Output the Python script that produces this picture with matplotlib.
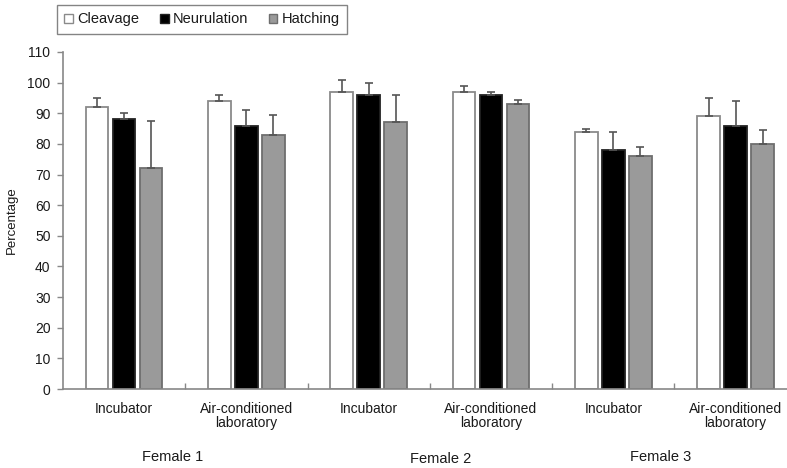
import numpy as np
import matplotlib.pyplot as plt
from matplotlib.patches import Patch
from matplotlib.transforms import blended_transform_factory

plt.rcParams['font.family'] = ['Liberation Sans', 'DejaVu Sans']

# data
conditions = ["Incubator", "Air-conditioned\nlaboratory"] * 3
females = ["Female 1", "Female 2", "Female 3"]
series = ["Cleavage", "Neurulation", "Hatching"]
cleavage = [92, 94, 97, 97, 84, 89]
neurulation = [88, 86, 96, 96, 78, 86]
hatching = [72, 83, 87, 93, 76, 80]
cleavage_err = [3, 2, 4, 2, 1, 6]
neurulation_err = [2, 5, 4, 1, 6, 8]
hatching_err = [15.5, 6.5, 9, 1.3, 3, 4.5]

values = [cleavage, neurulation, hatching]
errors = [cleavage_err, neurulation_err, hatching_err]
faces = ["white", "black", "#9a9a9a"]
edges = ["#8a8a8a", "#222222", "#6e6e6e"]
txt = "#1a1a1a"

fig = plt.figure(figsize=(7.87, 4.68), dpi=100)
ax = fig.add_axes([0.080, 0.1688, 0.920, 0.7201])

x = np.arange(len(conditions))
width = 0.184
step = 0.221
for i, (vals, errs) in enumerate(zip(values, errors)):
    ax.bar(x + (i - 1) * step, vals, width, color=faces[i], edgecolor=edges[i],
           linewidth=1.3, zorder=2)
    ax.errorbar(x + (i - 1) * step, vals, yerr=[np.zeros(len(errs)), errs],
                fmt="none", ecolor="#555555", elinewidth=1.2, capsize=3,
                capthick=1.2, zorder=3)

ax.set_xlim(-0.5, 5.42)
ax.set_ylim(0, 110)
ax.set_yticks(np.arange(0, 111, 10))
ax.tick_params(axis="y", length=4, width=1, color="#888888", labelsize=10,
               labelcolor=txt, pad=5)
ax.set_xticks(x)
ax.set_xticklabels(conditions, fontsize=10, linespacing=1.0, color=txt)
ax.tick_params(axis="x", which="major", length=0, pad=9)
ax.set_xticks(np.arange(0.5, 5.5, 1), minor=True)
ax.tick_params(axis="x", which="minor", direction="in", length=4, width=1,
               color="#888888")
for s in ["top", "right"]:
    ax.spines[s].set_visible(False)
for s in ["left", "bottom"]:
    ax.spines[s].set_color("#888888")
    ax.spines[s].set_linewidth(1.2)

ax.set_ylabel("Percentage", fontsize=9.5, color=txt)
ax.yaxis.set_label_coords(-0.0625, 0.5)

trans = blended_transform_factory(ax.transData, fig.transFigure)
female_x = [0.40, 2.59, 4.385]
female_y = [0.024, 0.020, 0.024]
for fx, fy, name in zip(female_x, female_y, females):
    ax.text(fx, fy, name, transform=trans, ha="center", va="center",
            fontsize=10.5, color=txt)

handles = [Patch(facecolor=faces[i], edgecolor=edges[i], linewidth=1)
           for i in range(3)]
leg = fig.legend(handles, series, loc="upper left", bbox_to_anchor=(0.0724, 0.989),
                 ncol=3, fontsize=10.5, frameon=True, fancybox=False,
                 handlelength=0.6, handleheight=0.6, handletextpad=0.3,
                 columnspacing=1.4, borderpad=0.5, borderaxespad=0)
leg.get_frame().set_edgecolor("#666666")
leg.get_frame().set_linewidth(1)
for t in leg.get_texts():
    t.set_color(txt)

fig.savefig("out.png", dpi=100)
